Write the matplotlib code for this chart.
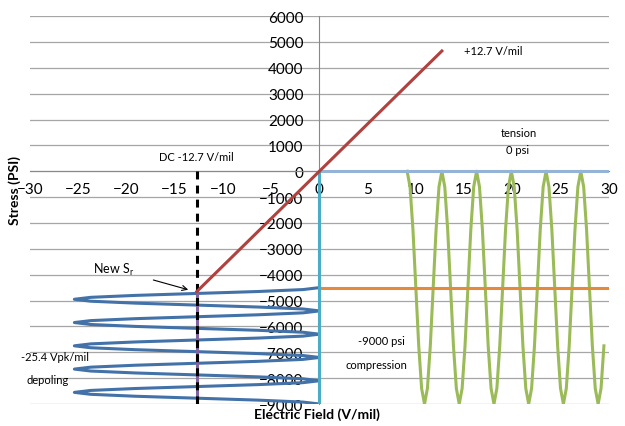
import matplotlib
matplotlib.use('Agg')
import matplotlib.pyplot as plt

# data
poling_x = [-12.7, 12.7]
poling_y = [-4650, 4650]

dc_x = [-12.7, -12.7]
dc_y = [0, -9000]
sr_x = [-12.7, -12.7]
sr_y = [-4650, -9000]

tension_x = [0, 30]
tension_y = [0, 0]
axis0_x = [0, 0]
axis0_y = [0, -9000]
mid_x = [0, 30]
mid_y = [-4500, -4500]

# depoling sweep (x oscillates between 0 and -25.4 while stress drifts down)
depol_x = [0, -1.70, -6.35, -12.7, -19.05, -23.70, -25.4, -23.70, -19.05, -12.7, -6.35, -1.70,
           0, -1.70, -6.35, -12.7, -19.05, -23.70, -25.4, -23.70, -19.05, -12.7, -6.35, -1.70,
           0, -1.70, -6.35, -12.7, -19.05, -23.70, -25.4, -23.70, -19.05, -12.7, -6.35, -1.70,
           0, -1.70, -6.35, -12.7, -19.05, -23.70, -25.4, -23.70, -19.05, -12.7, -6.35, -1.70,
           0, -1.70, -6.35, -12.7, -19.05, -23.70, -25.4, -23.70, -19.05, -12.7, -6.35, -1.70,
           0]
depol_y = [-4500, -4575, -4650, -4725, -4800, -4875, -4950, -5025, -5100, -5175, -5250, -5325,
           -5400, -5475, -5550, -5625, -5700, -5775, -5850, -5925, -6000, -6075, -6150, -6225,
           -6300, -6375, -6450, -6525, -6600, -6675, -6750, -6825, -6900, -6975, -7050, -7125,
           -7200, -7275, -7350, -7425, -7500, -7575, -7650, -7725, -7800, -7875, -7950, -8025,
           -8100, -8175, -8250, -8325, -8400, -8475, -8550, -8625, -8700, -8775, -8850, -8925,
           -9000]

# compression cycling
comp_x = [9.1, 9.4, 9.7, 10.0, 10.3, 10.6, 10.9, 11.2, 11.5, 11.8, 12.1, 12.4,
          12.7, 13.0, 13.3, 13.6, 13.9, 14.2, 14.5, 14.8, 15.1, 15.4, 15.7, 16.0,
          16.3, 16.6, 16.9, 17.2, 17.5, 17.8, 18.1, 18.4, 18.7, 19.0, 19.3, 19.6,
          19.9, 20.2, 20.5, 20.8, 21.1, 21.4, 21.7, 22.0, 22.3, 22.6, 22.9, 23.2,
          23.5, 23.8, 24.1, 24.4, 24.7, 25.0, 25.3, 25.6, 25.9, 26.2, 26.5, 26.8,
          27.1, 27.4, 27.7, 28.0, 28.3, 28.6, 28.9, 29.2, 29.5]
comp_y = [0, -603, -2250, -4500, -6750, -8397, -9000, -8397, -6750, -4500, -2250, -603,
          0, -603, -2250, -4500, -6750, -8397, -9000, -8397, -6750, -4500, -2250, -603,
          0, -603, -2250, -4500, -6750, -8397, -9000, -8397, -6750, -4500, -2250, -603,
          0, -603, -2250, -4500, -6750, -8397, -9000, -8397, -6750, -4500, -2250, -603,
          0, -603, -2250, -4500, -6750, -8397, -9000, -8397, -6750, -4500, -2250, -603,
          0, -603, -2250, -4500, -6750, -8397, -9000, -8397, -6750]

xticks = list(range(-30, 31, 5))
yticks = list(range(-9000, 6001, 1000))

plt.rcParams['font.family'] = ['Lato', 'DejaVu Sans']

fig = plt.figure(figsize=(6.25, 4.27), dpi=100)
ax = fig.add_axes([0.048, 0.0515, 0.926, 0.9085])

ax.set_xlim(-30, 30)
ax.set_ylim(-9000, 6000)
ax.set_xticks(xticks)
ax.set_yticks(yticks)
ax.grid(axis='y', color='#a6a6a6', linewidth=0.9)
ax.set_axisbelow(True)

for s in ['top', 'right']:
    ax.spines[s].set_visible(False)
ax.spines['left'].set_position(('data', 0))
ax.spines['bottom'].set_position(('data', 0))
ax.spines['left'].set_color('#888888')
ax.spines['bottom'].set_color('#888888')
ax.tick_params(axis='x', length=0, pad=8, labelsize=11)
ax.tick_params(axis='y', length=0, pad=11.5, labelsize=11)

lw = 2.2
ax.plot(depol_x, depol_y, color='#4272a8', lw=lw, zorder=3)
ax.plot(comp_x, comp_y, color='#9bbb59', lw=lw, zorder=3)
ax.plot(sr_x, sr_y, color='#8064a2', lw=lw, zorder=3)
ax.plot(dc_x, dc_y, color='black', lw=2.2, dashes=(2.6, 2.0), zorder=4)
ax.plot(tension_x, tension_y, color='#95b3d7', lw=lw, zorder=3)
ax.plot(mid_x, mid_y, color='#e58a3c', lw=lw, zorder=3)
ax.plot(axis0_x, axis0_y, color='#4bacc6', lw=lw, zorder=3)
ax.plot(poling_x, poling_y, color='#b0413e', lw=lw, zorder=5)

fs = 8
ax.text(-12.8, 580, 'DC -12.7 V/mil', fontsize=fs, ha='center', va='center')
ax.text(15.0, 4670, '+12.7 V/mil', fontsize=fs, ha='left', va='center')
ax.text(20.7, 1500, 'tension', fontsize=fs, ha='center', va='center')
ax.text(20.5, 850, '0 psi', fontsize=fs, ha='center', va='center')
ax.text(-27.4, -7180, '-25.4 Vpk/mil', fontsize=fs, ha='center', va='center')
ax.text(-28.2, -8070, 'depoling', fontsize=fs, ha='center', va='center')
ax.text(6.4, -6560, '-9000 psi', fontsize=fs, ha='center', va='center')
ax.text(5.9, -7490, 'compression', fontsize=fs, ha='center', va='center')
ax.annotate('New S$_\\mathregular{r}$', xy=(-13.6, -4580), xytext=(-21.3, -3780),
            fontsize=9, ha='center', va='center',
            arrowprops=dict(arrowstyle='->', color='black', lw=0.8,
                            shrinkA=12, shrinkB=0))

fig.text(0.507, 0.028, 'Electric Field (V/mil)', fontsize=10, fontweight='bold',
         ha='center', va='center')
fig.text(0.024, 0.555, 'Stress (PSI)', fontsize=10, fontweight='bold',
         ha='center', va='center', rotation=90)

fig.savefig('out.png', dpi=100)
